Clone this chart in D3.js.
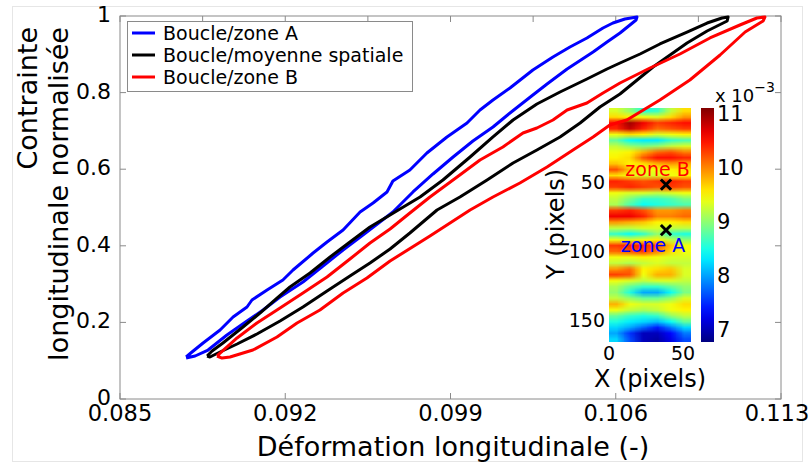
<!DOCTYPE html>
<html><head><meta charset="utf-8">
<script src="https://cdn.jsdelivr.net/npm/d3@7"></script>
<style>body{margin:0;background:#fff} text{font-family:"DejaVu Sans",sans-serif}</style>
</head><body><svg id="c" width="810" height="466"></svg>
<script>
// ---- data: [strain, normalised stress] (loading branch then unloading branch) ----
const loopA = [
[0.08780,0.1097],[0.08805,0.1227],[0.08852,0.1462],[0.08924,0.1802],[0.08979,0.2141],[0.09038,0.2402],[0.09059,0.2585],[0.09123,0.2846],[0.09190,0.3107],[0.09233,0.3368],[0.09318,0.3812],[0.09377,0.4099],[0.09445,0.4413],[0.09517,0.4883],[0.09572,0.5117],[0.09631,0.5405],[0.09656,0.5692],[0.09728,0.5979],[0.09800,0.6423],[0.09885,0.6841],[0.09970,0.7206],[0.10025,0.7546],[0.10080,0.7807],[0.10152,0.8120],[0.10249,0.8590],[0.10334,0.8930],[0.10406,0.9191],[0.10478,0.9426],[0.10546,0.9687],[0.10588,0.9817],[0.10639,0.9922],[0.10690,0.9974],
[0.10686,0.9896],[0.10660,0.9765],[0.10618,0.9556],[0.10563,0.9321],[0.10504,0.9060],[0.10394,0.8616],[0.10309,0.8225],[0.10249,0.7937],[0.10152,0.7467],[0.10080,0.7102],[0.09995,0.6736],[0.09911,0.6319],[0.09826,0.5875],[0.09741,0.5405],[0.09656,0.4883],[0.09601,0.4621],[0.09529,0.4282],[0.09445,0.3890],[0.09360,0.3473],[0.09275,0.3055],[0.09178,0.2663],[0.09106,0.2324],[0.09038,0.2037],[0.08953,0.1671],[0.08873,0.1279],[0.08818,0.1123],[0.08780,0.1070]];
const loopMean = [
[0.08869,0.1123],[0.08890,0.1253],[0.08936,0.1462],[0.09021,0.1880],[0.09093,0.2245],[0.09165,0.2637],[0.09220,0.2924],[0.09305,0.3290],[0.09390,0.3708],[0.09474,0.4099],[0.09559,0.4491],[0.09644,0.4804],[0.09686,0.4961],[0.09771,0.5274],[0.09868,0.5718],[0.09983,0.6319],[0.10080,0.6841],[0.10165,0.7285],[0.10266,0.7702],[0.10364,0.8016],[0.10478,0.8355],[0.10563,0.8616],[0.10618,0.8773],[0.10703,0.9008],[0.10787,0.9269],[0.10902,0.9582],[0.10987,0.9817],[0.11050,0.9948],[0.11076,0.9974],
[0.11072,0.9869],[0.10987,0.9608],[0.10902,0.9295],[0.10758,0.8668],[0.10618,0.7963],[0.10533,0.7624],[0.10449,0.7206],[0.10364,0.6841],[0.10266,0.6501],[0.10165,0.6162],[0.10055,0.5718],[0.09940,0.5274],[0.09843,0.4935],[0.09728,0.4334],[0.09644,0.3916],[0.09559,0.3551],[0.09474,0.3211],[0.09377,0.2820],[0.09275,0.2402],[0.09178,0.2037],[0.09080,0.1697],[0.08996,0.1436],[0.08924,0.1227],[0.08881,0.1097],[0.08869,0.1123]];
const loopB = [
[0.08911,0.1123],[0.08996,0.1593],[0.09080,0.1984],[0.09178,0.2376],[0.09275,0.2768],[0.09377,0.3185],[0.09474,0.3655],[0.09559,0.4073],[0.09644,0.4439],[0.09728,0.4856],[0.09813,0.5274],[0.09928,0.5796],[0.10025,0.6240],[0.10122,0.6580],[0.10207,0.6945],[0.10266,0.7076],[0.10334,0.7285],[0.10394,0.7546],[0.10478,0.7728],[0.10546,0.7990],[0.10618,0.8251],[0.10745,0.8642],[0.10872,0.9008],[0.10999,0.9426],[0.11126,0.9765],[0.11198,0.9948],[0.11232,0.9974],
[0.11224,0.9869],[0.11148,0.9582],[0.11042,0.8982],[0.10914,0.8329],[0.10787,0.7807],[0.10647,0.7285],[0.10575,0.7154],[0.10504,0.6841],[0.10419,0.6501],[0.10309,0.6057],[0.10194,0.5640],[0.10080,0.5274],[0.09983,0.4935],[0.09813,0.4256],[0.09644,0.3603],[0.09546,0.3159],[0.09445,0.2768],[0.09347,0.2324],[0.09250,0.1984],[0.09165,0.1619],[0.09063,0.1279],[0.08966,0.1097],[0.08932,0.1070],[0.08911,0.1123]];
const seriesNames = ["Boucle/zone A","Boucle/moyenne spatiale","Boucle/zone B"];
const strainTicks = [0.085,0.092,0.099,0.106,0.113];
const strainMinorTicks = [0.085,0.0885,0.092,0.0955,0.099,0.1025,0.106,0.1095,0.113];
const stressTicks = [0,0.2,0.4,0.6,0.8,1];
// inset strain map (x10^-3), rows top->bottom, columns left->right
const mapCols = [4.6,13.8,23,32.2,41.4,50.6];
const mapRows = [
[9.3,9.0,8.5,8.6,9.2,9.6],[9.6,9.5,9.4,9.3,9.6,9.9],[10.5,10.95,10.6,10.3,10.4,10.5],[10.4,10.8,10.4,10.1,10.2,10.3],
[9.4,9.6,9.5,9.3,9.4,9.5],[8.8,8.4,8.3,8.3,8.6,8.7],[9.2,9.0,8.9,9.0,9.2,9.3],[9.4,9.5,9.8,10.1,10.2,10.0],
[9.5,9.6,10.2,10.5,10.5,10.4],[9.7,9.5,9.6,9.8,9.9,9.8],[10.2,9.7,9.4,9.4,9.5,9.6],[9.6,9.4,9.3,9.3,9.4,9.5],
[10.4,10.3,10.2,10.3,10.4,10.3],[10.3,10.4,10.3,10.2,10.3,10.2],[9.4,9.3,9.3,9.2,9.3,9.4],[9.2,8.9,8.6,8.6,8.7,8.9],
[9.1,8.7,8.4,8.5,8.6,8.7],[10.3,10.4,10.2,9.9,9.9,10.0],[10.6,10.6,10.4,10.0,10.0,10.1],[9.9,9.8,9.7,9.5,9.5,9.6],
[9.2,9.2,9.3,9.3,9.2,9.2],[8.6,8.4,8.6,9.0,8.6,8.5],[9.4,9.3,9.4,9.5,9.2,9.0],[10.3,10.4,10.4,10.2,9.7,9.4],
[10.1,10.2,10.3,10.0,9.6,9.4],[9.4,9.4,9.5,9.4,9.3,9.3],[9.2,9.1,9.2,9.3,9.2,9.2],[9.9,10.1,9.5,9.6,9.7,9.3],
[10.3,10.2,9.4,9.8,9.8,9.3],[9.4,9.3,9.2,9.3,9.3,9.2],[9.1,8.8,8.6,8.6,8.8,9.0],[9.0,8.5,8.0,8.0,8.4,8.9],
[9.2,9.0,8.8,8.8,9.0,9.3],[9.8,9.4,9.3,9.3,9.4,9.6],[9.4,9.2,9.1,9.2,9.4,9.5],[8.8,8.6,8.5,8.6,9.0,9.2],
[8.5,8.3,8.2,8.1,8.4,8.8],[8.2,8.0,7.7,7.4,7.8,8.2],[8.0,7.5,7.0,7.0,7.3,7.8],[8.2,7.6,7.0,6.9,7.2,7.6]];
const mapXTicks = [0,50];
const mapYTicks = [50,100,150];
const cbarTicks = [7,8,9,10,11];
const zones = [{name:"zone B",x:38.5,y:52,color:"#ff0000",tx:11,ty:46},{name:"zone A",x:38.5,y:85,color:"#0000ff",tx:8,ty:101}];

const svg = d3.select("#c");
// outer figure frame
svg.append("rect").attr("x",12.5).attr("y",6.5).attr("width",790).attr("height",455).attr("fill","none").attr("stroke","#e6e6e6");

const x = d3.scaleLinear([0.085,0.113],[120,781]);
const y = d3.scaleLinear([0,1],[399,16]);
const ax = "#8a8a8a";
const g = svg.append("g");
g.append("rect").attr("x",x.range()[0]).attr("y",y.range()[1]).attr("width",x.range()[1]-x.range()[0]).attr("height",y.range()[0]-y.range()[1]).attr("fill","#fff").attr("stroke",ax);
// ticks
g.selectAll(".bt").data(strainTicks).join("line").attr("x1",d=>x(d)).attr("x2",d=>x(d)).attr("y1",y(0)).attr("y2",y(0)-6).attr("stroke",ax);
g.selectAll(".tt").data(strainMinorTicks).join("line").attr("x1",d=>x(d)).attr("x2",d=>x(d)).attr("y1",y(1)).attr("y2",y(1)+6).attr("stroke",ax);
g.selectAll(".lt").data(stressTicks).join("line").attr("x1",x(0.085)).attr("x2",x(0.085)+6).attr("y1",d=>y(d)).attr("y2",d=>y(d)).attr("stroke",ax);
g.selectAll(".rt").data(stressTicks).join("line").attr("x1",x(0.113)).attr("x2",x(0.113)-6).attr("y1",d=>y(d)).attr("y2",d=>y(d)).attr("stroke",ax);
g.selectAll(".xl").data(strainTicks).join("text").attr("x",(d,i)=>Math.min(x(d),777)).attr("y",421).attr("text-anchor","middle").attr("font-size",22.5).text(d=>d3.format(".3f")(d));
g.selectAll(".yl").data(stressTicks).join("text").attr("x",111).attr("y",d=>y(d)-2).attr("dy","0.36em").attr("text-anchor","end").attr("font-size",22).text(d=>String(d));
g.append("text").attr("x",453).attr("y",456).attr("text-anchor","middle").attr("font-size",27).text("Déformation longitudinale (-)");
g.append("text").attr("transform","translate(37,27) rotate(-90)").attr("text-anchor","end").attr("font-size",27).text("Contrainte");
g.append("text").attr("transform","translate(68,27) rotate(-90)").attr("text-anchor","end").attr("font-size",27).text("longitudinale normalisée");

// ---- inset map ----
const hx = d3.scaleLinear([0,55.4],[609,691]);
const hy = d3.scaleLinear([-3.5,166],[108,342]);
const cdom = [6.74,11.09];
const jet = t=>{const c=v=>Math.max(0,Math.min(1,v));return d3.rgb(255*c(1.5-Math.abs(4*t-3)),255*c(1.5-Math.abs(4*t-2)),255*c(1.5-Math.abs(4*t-1)));};
const color = d3.scaleSequential(cdom, jet);
const cv = document.createElement("canvas"); cv.width=mapCols.length; cv.height=mapRows.length;
const ctx = cv.getContext("2d"); const im = ctx.createImageData(cv.width,cv.height);
mapRows.forEach((row,r)=>row.forEach((v,c)=>{const col=d3.rgb(color(v));const k=4*(r*cv.width+c);im.data[k]=col.r;im.data[k+1]=col.g;im.data[k+2]=col.b;im.data[k+3]=255;}));
ctx.putImageData(im,0,0);
svg.append("image").attr("href",cv.toDataURL()).attr("x",hx(0)).attr("y",hy(-3.5)).attr("width",hx(55.4)-hx(0)).attr("height",hy(166)-hy(-3.5)).attr("preserveAspectRatio","none");
svg.selectAll(".mx").data(mapXTicks).join("text").attr("x",d=>hx(d)).attr("y",360).attr("text-anchor","middle").attr("font-size",19).text(d=>d);
svg.selectAll(".my").data(mapYTicks).join("text").attr("x",605).attr("y",d=>hy(d)).attr("dy","0.36em").attr("text-anchor","end").attr("font-size",19).text(d=>d);
svg.append("text").attr("x",650).attr("y",387).attr("text-anchor","middle").attr("font-size",24).text("X (pixels)");
svg.append("text").attr("transform","translate(564,224) rotate(-90)").attr("text-anchor","middle").attr("font-size",24).text("Y (pixels)");
zones.forEach(z=>{
  svg.append("path").attr("d",d3.symbol(d3.symbolX,70)()).attr("transform",`translate(${hx(z.x)},${hy(z.y)})`).attr("stroke","#000").attr("stroke-width",3).attr("fill","none");
  svg.append("text").attr("x",hx(z.tx)).attr("y",hy(z.ty)).attr("font-size",19).attr("fill",z.color).text(z.name);
});
// colorbar
const cy = d3.scaleLinear(cdom,[342,108]);
const grad = svg.append("defs").append("linearGradient").attr("id","cb").attr("x1",0).attr("x2",0).attr("y1",1).attr("y2",0);
d3.range(0,1.0001,0.05).forEach(t=>grad.append("stop").attr("offset",t).attr("stop-color",jet(t)));
svg.append("rect").attr("x",701).attr("y",cy(cdom[1])).attr("width",13).attr("height",cy(cdom[0])-cy(cdom[1])).attr("fill","url(#cb)");
svg.selectAll(".cl").data(cbarTicks).join("text").attr("x",717).attr("y",d=>cy(d)+1).attr("dy","0.36em").attr("font-size",21).text(d=>d);
const ex = svg.append("text").attr("x",715).attr("y",102).attr("font-size",18);
ex.append("tspan").text("x 10");
ex.append("tspan").attr("dy",-10).attr("font-size",14).text("−3");

// ---- loops ----
const line = d3.line().x(d=>x(d[0])).y(d=>y(d[1]));
const loops = [loopA,loopMean,loopB];
const colors = ["#0000ff","#000000","#ff0000"];
loops.forEach((l,i)=>svg.append("path").attr("d",line(l)).attr("fill","none").attr("stroke",colors[i]).attr("stroke-width",3).attr("stroke-linejoin","round"));

// ---- legend ----
const lg = svg.append("g");
lg.append("rect").attr("x",127.5).attr("y",21.5).attr("width",285).attr("height",70).attr("fill","#fff").attr("stroke",ax);
seriesNames.forEach((n,i)=>{
  const yy = 33+22*i;
  lg.append("line").attr("x1",132).attr("x2",155).attr("y1",yy).attr("y2",yy).attr("stroke",colors[i]).attr("stroke-width",3);
  lg.append("text").attr("x",163).attr("y",yy).attr("dy","0.36em").attr("font-size",19).text(n);
});
</script></body></html>
